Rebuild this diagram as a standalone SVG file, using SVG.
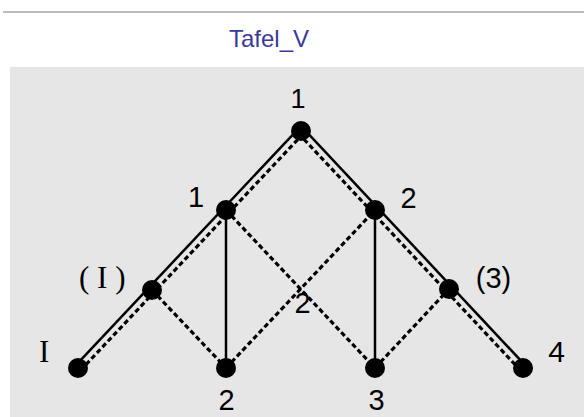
<svg xmlns="http://www.w3.org/2000/svg" width="584" height="417" viewBox="0 0 584 417">
<style>
.sol{stroke:#000;stroke-width:2.5;fill:none}
.dsh{stroke:#000;stroke-width:3.2;fill:none;stroke-dasharray:5 3}
.dot{fill:#000}
.lbl{font-family:"Liberation Sans",Arial,sans-serif;fill:#000;text-anchor:middle}
.ser{font-family:"Liberation Serif","Times New Roman",serif;fill:#000;font-size:31px}
</style>
<rect x="0" y="0" width="584" height="417" fill="#fff"/>
<line x1="3" y1="12" x2="584" y2="12" stroke="#bdbdbd" stroke-width="2"/>
<text x="269" y="47" font-family="Liberation Sans,Arial,sans-serif" font-size="24" fill="#3a3a98" text-anchor="middle">Tafel_V</text>
<rect x="10" y="67" width="574" height="350" fill="#e6e6e6"/>
<g id="connectors">
<line class="sol" x1="75.5" y1="365.6" x2="298.5" y2="128.6"/>
<line class="dsh" x1="80.5" y1="370.4" x2="303.5" y2="133.4"/>
<line class="sol" x1="303.5" y1="128.6" x2="525.5" y2="365.6"/>
<line class="dsh" x1="298.5" y1="133.4" x2="520.5" y2="370.4"/>
<line class="sol" x1="226" y1="210" x2="226" y2="368"/>
<line class="sol" x1="375" y1="210" x2="375" y2="368"/>
<line class="dsh" x1="152" y1="290" x2="226" y2="368"/>
<line class="dsh" x1="226" y1="210" x2="375" y2="368"/>
<line class="dsh" x1="226" y1="368" x2="375" y2="210"/>
<line class="dsh" x1="375" y1="368" x2="449" y2="289"/>
</g>
<g id="n-top"><circle class="dot" cx="301" cy="131" r="10"/><text class="lbl" x="298" y="108" font-size="27">1</text></g>
<g id="n-1"><circle class="dot" cx="226" cy="210" r="10"/><text class="lbl" x="196" y="207" font-size="29">1</text></g>
<g id="n-2"><circle class="dot" cx="375" cy="210" r="10"/><text class="lbl" x="408.5" y="208" font-size="29">2</text></g>
<g id="n-pI"><circle class="dot" cx="152" cy="290" r="10"/><text class="ser" x="79" y="288" xml:space="preserve">( I )</text></g>
<g id="n-p3"><circle class="dot" cx="449" cy="289" r="10"/><text class="lbl" x="493.5" y="288" font-size="29">(3)</text></g>
<g id="n-I"><circle class="dot" cx="78" cy="368" r="10"/><text class="ser" x="39" y="362">I</text></g>
<g id="n-b2"><circle class="dot" cx="226" cy="368" r="10"/><text class="lbl" x="226.5" y="410" font-size="29">2</text></g>
<g id="n-b3"><circle class="dot" cx="375" cy="368" r="10"/><text class="lbl" x="376.5" y="410" font-size="29">3</text></g>
<g id="n-4"><circle class="dot" cx="523" cy="368" r="10"/><text class="lbl" x="556.5" y="362" font-size="30">4</text></g>
<g id="n-c2"><text class="lbl" x="302.5" y="313" font-size="29">2</text></g>
</svg>
